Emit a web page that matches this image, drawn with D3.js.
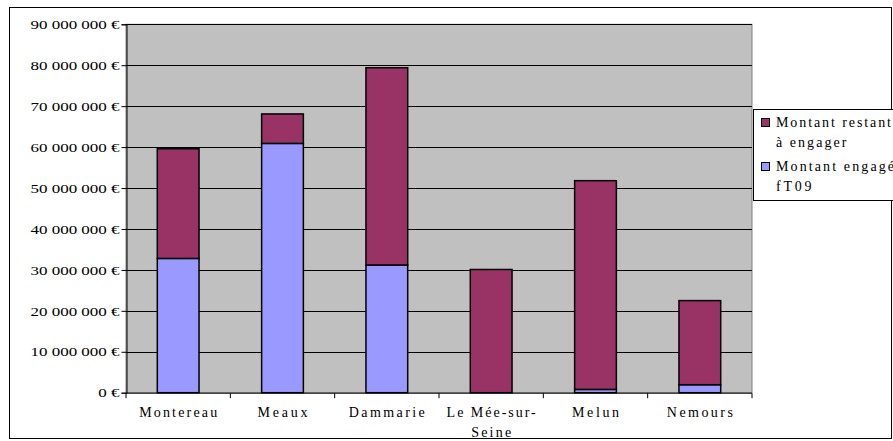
<!DOCTYPE html>
<html><head><meta charset="utf-8">
<script src="https://cdn.jsdelivr.net/npm/d3@7"></script>
<style>body{margin:0;background:#fff;} svg{display:block;}</style>
</head><body>
<script>
const categories = ["Montereau", "Meaux", "Dammarie", "Le Mée-sur-Seine", "Melun", "Nemours"];
const categoryLines = [["Montereau"], ["Meaux"], ["Dammarie"], ["Le Mée-sur-", "Seine"], ["Melun"], ["Nemours"]];
const engaged = [32.8e6, 60.9e6, 31.2e6, 0, 0.8e6, 1.95e6];
const remaining = [26.8e6, 7.2e6, 48.2e6, 30.1e6, 51.0e6, 20.55e6];
const seriesNames = [["Montant restant", "à engager"], ["Montant engagé", "fT09"]];
const yTicks = [0, 10e6, 20e6, 30e6, 40e6, 50e6, 60e6, 70e6, 80e6, 90e6];

const W = 893, H = 441;
const FONT = '"Liberation Serif", "Times New Roman", serif';
const svg = d3.select("body").append("svg").attr("width", W).attr("height", H);

function stretch(sel, factor, mode) {
  sel.each(function () {
    const len = this.getComputedTextLength();
    d3.select(this).attr("textLength", len * factor).attr("lengthAdjust", mode || "spacingAndGlyphs");
  });
}
function factorFor(str, size, target) {
  const t = svg.append("text").style("font-family", FONT).style("font-size", size + "px").text(str);
  const f = target / t.node().getComputedTextLength();
  t.remove();
  return f;
}

svg.append("rect").attr("x", 9.5).attr("y", 7.5).attr("width", 882).attr("height", 431)
  .attr("fill", "#fff").attr("stroke", "#000").attr("stroke-width", 1);

const pl = 126, pr = 752, pt = 24.3, pb = 392.7;
const x = d3.scaleBand().domain(categories).range([pl, pr]).paddingInner(0).paddingOuter(0);
const y = d3.scaleLinear().domain([0, 90e6]).range([pb, pt]);

svg.append("rect").attr("x", pl).attr("y", pt).attr("width", pr - pl).attr("height", pb - pt)
  .attr("fill", "#C0C0C0").attr("stroke", "#808080").attr("stroke-width", 1);

svg.append("g").selectAll("line").data(yTicks.slice(1)).join("line")
  .attr("x1", pl).attr("x2", pr).attr("y1", d => Math.round(y(d)) + 0.5).attr("y2", d => Math.round(y(d)) + 0.5)
  .attr("stroke", "#000").attr("stroke-width", 1);

const bw = x.bandwidth() * 0.4;
const g = svg.append("g");
categories.forEach((c, i) => {
  const cx = x(c) + x.bandwidth() / 2;
  const e = engaged[i], r = remaining[i];
  if (e > 0) g.append("rect").attr("x", cx - bw / 2).attr("y", y(e)).attr("width", bw).attr("height", y(0) - y(e))
    .attr("fill", "#9999FF").attr("stroke", "#000").attr("stroke-width", 1.5);
  g.append("rect").attr("x", cx - bw / 2).attr("y", y(e + r)).attr("width", bw).attr("height", y(e) - y(e + r))
    .attr("fill", "#993366").attr("stroke", "#000").attr("stroke-width", 1.5);
});

const fmt = d => d === 0 ? "0 €" : d3.format(",")(d).replace(/,/g, " ") + " €";
const ya = svg.append("g").attr("transform", `translate(${pl + 0.5},0)`)
  .call(d3.axisLeft(y).tickValues(yTicks).tickSize(5).tickPadding(2).tickFormat(fmt));
ya.select(".domain").attr("stroke", "#000");
ya.selectAll("line").attr("stroke", "#000");
const tickSize = 12;
ya.selectAll("text").style("font-family", FONT).style("font-size", tickSize + "px").attr("fill", "#000").attr("dy", "0.35em");
stretch(ya.selectAll("text"), factorFor("90 000 000 €", tickSize, 89));

const xa = svg.append("g").attr("transform", `translate(0,${pb + 0.5})`);
xa.append("line").attr("x1", pl).attr("x2", pr).attr("stroke", "#000");
const bounds = categories.map(c => x(c)).concat([pr]);
xa.selectAll("line.t").data(bounds).join("line").attr("class", "t")
  .attr("x1", d => d).attr("x2", d => d).attr("y1", 0).attr("y2", 5).attr("stroke", "#000");
const catSize = 14;
const catF = factorFor("Montereau", catSize, 78);
categories.forEach((c, i) => {
  const t = xa.append("text").attr("text-anchor", "middle").style("font-family", FONT).style("font-size", catSize + "px").attr("fill", "#000");
  categoryLines[i].forEach((ln, k) => t.append("tspan").attr("x", x(c) + x.bandwidth() / 2).attr("y", 24 + k * 20).text(ln));
  stretch(t.selectAll("tspan"), catF, "spacing");
});

const lg = svg.append("g");
lg.append("rect").attr("x", 753.5).attr("y", 109.5).attr("width", 145).attr("height", 91)
  .attr("fill", "#fff").attr("stroke", "#000");
const colors = ["#993366", "#9999FF"];
const legSize = 14;
const legF = factorFor("Montant restant", legSize, 115);
seriesNames.forEach((s, i) => {
  const yy = 127 + i * 44;
  lg.append("rect").attr("x", 761.5).attr("y", yy - 8.5).attr("width", 8).attr("height", 8)
    .attr("fill", colors[i]).attr("stroke", "#000");
  const t = lg.append("text").style("font-family", FONT).style("font-size", legSize + "px").attr("fill", "#000");
  s.forEach((ln, k) => t.append("tspan").attr("x", 776).attr("y", yy + k * 19.5).text(ln));
  stretch(t.selectAll("tspan"), legF, "spacing");
});
</script>
</body></html>
